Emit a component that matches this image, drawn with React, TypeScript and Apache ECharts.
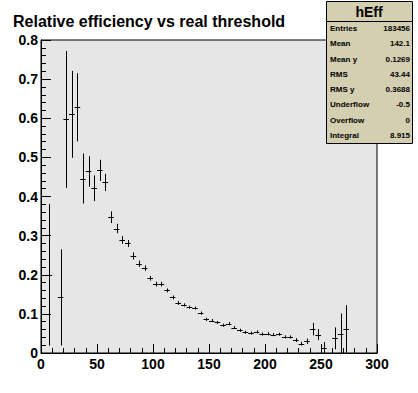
import React, { useEffect, useRef } from "react";
import * as echarts from "echarts";

// ---- data ----
const binCenters = [
  7.5, 17.5, 22.5, 27.5, 32.5, 37.5, 42.5, 47.5, 52.5, 57.5,
  62.5, 67.5, 72.5, 77.5, 82.5, 87.5, 92.5, 97.5, 102.5, 107.5,
  112.5, 117.5, 122.5, 127.5, 132.5, 137.5, 142.5, 147.5, 152.5, 157.5,
  162.5, 167.5, 172.5, 177.5, 182.5, 187.5, 192.5, 197.5, 202.5, 207.5,
  212.5, 217.5, 222.5, 227.5, 232.5, 237.5, 242.5, 247.5, 252.5, 262.5,
  267.5, 272.5,
];
const efficiency = [
  0.2, 0.142, 0.597, 0.61, 0.628, 0.446, 0.464, 0.421, 0.467, 0.436,
  0.347, 0.318, 0.289, 0.28, 0.248, 0.228, 0.217, 0.191, 0.176, 0.176,
  0.16, 0.142, 0.128, 0.123, 0.117, 0.115, 0.102, 0.086, 0.083, 0.078,
  0.071, 0.075, 0.065, 0.058, 0.053, 0.051, 0.054, 0.0486, 0.049, 0.047,
  0.048, 0.041, 0.041, 0.033, 0.024, 0.03, 0.061, 0.047, 0.014, 0.0375,
  0.049, 0.0605,
];
const errors = [
  0.181, 0.123, 0.175, 0.111, 0.087, 0.064, 0.039, 0.033, 0.027, 0.022,
  0.015, 0.012, 0.01, 0.009, 0.009, 0.008, 0.007, 0.006, 0.006, 0.006,
  0.005, 0.005, 0.005, 0.004, 0.004, 0.004, 0.004, 0.004, 0.004, 0.004,
  0.004, 0.004, 0.004, 0.004, 0.004, 0.004, 0.004, 0.004, 0.004, 0.004,
  0.004, 0.004, 0.004, 0.005, 0.005, 0.007, 0.016, 0.014, 0.014, 0.028,
  0.052, 0.062,
];
const BIN_HALF = 2.5;

const statsTitle = "hEff";
const statsLabels = ["Entries", "Mean", "Mean y", "RMS", "RMS y", "Underflow", "Overflow", "Integral"];
const statsValues = ["183456", "142.1", "0.1269", "43.44", "0.3688", "-0.5", "0", "8.915"];

const chartTitle = "Relative efficiency vs real threshold";

const FONT = "'Liberation Sans', Arial, Helvetica, sans-serif";

export default function App() {
  const ref = useRef<HTMLDivElement>(null);

  useEffect(() => {
    if (!ref.current) return;
    const chart = echarts.init(ref.current, undefined, { renderer: "svg" });

    const data = binCenters.map((x, i) => [x, efficiency[i], errors[i]]);

    const boxX = 326, boxY = 1, boxW = 86, boxH = 142, sepY = 21;
    const rowH = (boxH + boxY - sepY) / statsLabels.length;
    const statsGraphics: any[] = [
      {
        type: "rect",
        shape: { x: boxX + 0.5, y: boxY + 0.5, width: boxW, height: boxH },
        style: { fill: "#d4cfb1", stroke: "#000", lineWidth: 1 },
        z: 10,
      },
      {
        type: "line",
        shape: { x1: boxX, y1: sepY + 0.5, x2: boxX + boxW, y2: sepY + 0.5 },
        style: { stroke: "#000", lineWidth: 1 },
        z: 11,
      },
      {
        type: "text",
        x: boxX + boxW / 2,
        y: (boxY + sepY) / 2 + 1,
        style: {
          text: statsTitle,
          font: `bold 14px ${FONT}`,
          fill: "#000",
          align: "center",
          verticalAlign: "middle",
        },
        z: 11,
      },
    ];
    statsLabels.forEach((lab, i) => {
      const cy = sepY + rowH * (i + 0.5);
      statsGraphics.push({
        type: "text",
        x: boxX + 4,
        y: cy,
        style: { text: lab, font: `bold 8px ${FONT}`, fill: "#000", align: "left", verticalAlign: "middle" },
        z: 11,
      });
      statsGraphics.push({
        type: "text",
        x: boxX + boxW - 2,
        y: cy,
        style: { text: statsValues[i], font: `bold 8px ${FONT}`, fill: "#000", align: "right", verticalAlign: "middle" },
        z: 11,
      });
    });

    const Y_MIN = 0, Y_MAX = 0.8;

    chart.setOption({
      animation: false,
      backgroundColor: "#ffffff",
      title: {
        text: chartTitle,
        left: 13,
        top: 13,
        padding: 0,
        textStyle: { fontFamily: FONT, fontWeight: "bold", fontSize: 16, color: "#000" },
      },
      grid: {
        left: 41,
        right: 41,
        top: 40,
        bottom: 40,
        show: true,
        backgroundColor: "#e6e6e6",
        borderColor: "#000",
        borderWidth: 1,
        containLabel: false,
      },
      xAxis: {
        type: "value",
        min: 0,
        max: 300,
        interval: 50,
        splitLine: { show: false },
        axisLine: { show: true, lineStyle: { color: "#000", width: 1 } },
        axisTick: { show: true, inside: true, length: 9, lineStyle: { color: "#000" } },
        minorTick: { show: true, splitNumber: 5, length: 5, lineStyle: { color: "#000" } },
        minorSplitLine: { show: false },
        axisLabel: {
          show: true,
          margin: 4,
          fontFamily: FONT,
          fontWeight: "bold",
          fontSize: 14,
          color: "#000",
        },
      },
      yAxis: {
        type: "value",
        min: Y_MIN,
        max: Y_MAX,
        interval: 0.1,
        splitLine: { show: false },
        axisLine: { show: true, lineStyle: { color: "#000", width: 1 } },
        axisTick: { show: true, inside: true, length: 10, lineStyle: { color: "#000" } },
        minorTick: { show: true, splitNumber: 5, length: 5, lineStyle: { color: "#000" } },
        minorSplitLine: { show: false },
        axisLabel: {
          show: true,
          margin: 3,
          fontFamily: FONT,
          fontWeight: "bold",
          fontSize: 14,
          color: "#000",
          formatter: (v: number) => (v === 0 ? "0" : String(Math.round(v * 10) / 10)),
        },
      },
      series: [
        {
          type: "custom",
          coordinateSystem: "cartesian2d",
          data,
          clip: true,
          renderItem: (params: any, api: any) => {
            const x = api.value(0);
            const y = api.value(1);
            const e = api.value(2);
            const lo = Math.max(Y_MIN, y - e);
            const hi = Math.min(Y_MAX, y + e);
            const pL = api.coord([x - BIN_HALF, y]);
            const pR = api.coord([x + BIN_HALF, y]);
            const pB = api.coord([x, lo]);
            const pT = api.coord([x, hi]);
            const cy = Math.round(pL[1]) + 0.5;
            const cx = Math.round(pB[0]) + 0.5;
            return {
              type: "group",
              children: [
                {
                  type: "line",
                  shape: { x1: pL[0], y1: cy, x2: pR[0], y2: cy },
                  style: { stroke: "#000", lineWidth: 1 },
                },
                {
                  type: "line",
                  shape: { x1: cx, y1: pB[1], x2: cx, y2: pT[1] },
                  style: { stroke: "#000", lineWidth: 1 },
                },
              ],
            };
          },
        },
      ],
      graphic: statsGraphics,
    });

    return () => {
      chart.dispose();
    };
  }, []);

  return (
    <div
      ref={ref}
      style={{ position: "absolute", left: 0, top: 0, width: 418, height: 393 }}
    />
  );
}
